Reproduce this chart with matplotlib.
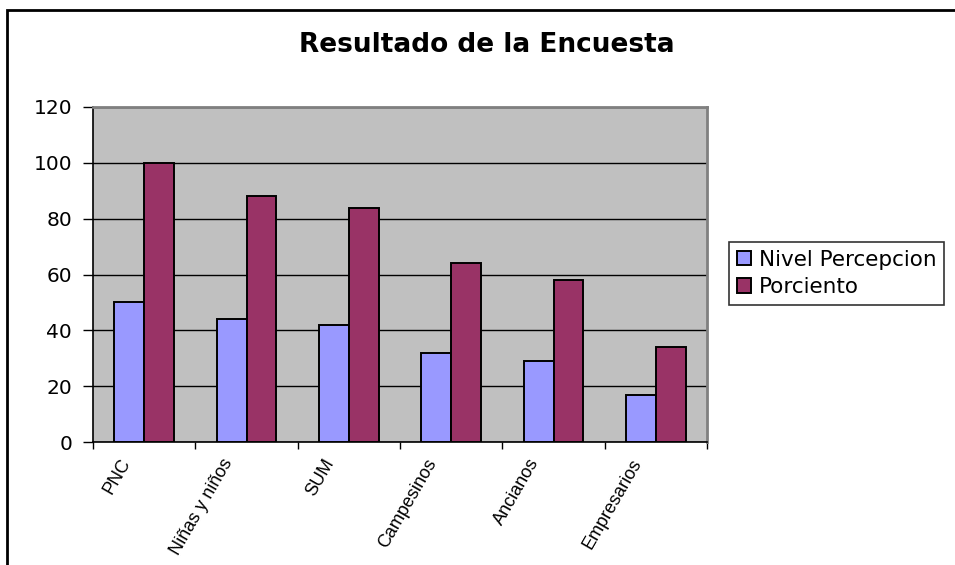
import matplotlib
matplotlib.use("Agg")
import matplotlib.pyplot as plt
from matplotlib.patches import Rectangle
from matplotlib.transforms import ScaledTranslation
import numpy as np

categories = ["PNC", "Niñas y niños", "SUM", "Campesinos", "Ancianos", "Empresarios"]
nivel_percepcion = [50, 44, 42, 32, 29, 17]
porciento = [100, 88, 84, 64, 58, 34]
series_names = ["Nivel Percepcion", "Porciento"]
yticks = [0, 20, 40, 60, 80, 100, 120]

plt.rcParams['font.family'] = ['DejaVu Sans']

W, H = 955, 565
fig = plt.figure(figsize=(W / 100, H / 100), dpi=100)
fig.patch.set_facecolor("white")

# outer chart border
fig.patches.append(Rectangle((7 / W, -0.05), 1.2, 1 - 10 / H + 0.05, transform=fig.transFigure,
                             fill=False, edgecolor="black", linewidth=2))

ax = fig.add_axes([93 / W, 1 - 442 / H, (707 - 93) / W, (442 - 107) / H])
ax.set_facecolor("#C0C0C0")

x = np.arange(len(categories))
w = 0.29
ax.bar(x - w / 2, nivel_percepcion, w, color="#9999FF", edgecolor="black", linewidth=1.4,
       label=series_names[0], zorder=3)
ax.bar(x + w / 2, porciento, w, color="#993366", edgecolor="black", linewidth=1.4,
       label=series_names[1], zorder=3)

ax.set_xlim(-0.5, len(categories) - 0.5)
ax.set_ylim(0, 120)
ax.set_yticks(yticks)
ax.yaxis.grid(True, color="black", linewidth=1.0, zorder=1)
ax.set_axisbelow(True)
ax.tick_params(axis="y", direction="out", length=7, width=1, labelsize=14.5, pad=8, colors="black")

# category boundary ticks (minor), labels at centers (major)
ax.set_xticks(np.arange(-0.5, len(categories)), minor=True)
ax.set_xticks(x)
ax.set_xticklabels(categories, rotation=60, ha="right", va="center", rotation_mode="anchor",
                   fontsize=13, family=["Liberation Sans", "DejaVu Sans"])
ax.tick_params(axis="x", which="major", length=0, pad=13)
ax.tick_params(axis="x", which="minor", direction="out", length=5, width=1)
offset = ScaledTranslation(-13 / 72, 0, fig.dpi_scale_trans)
for lbl in ax.get_xticklabels():
    lbl.set_transform(lbl.get_transform() + offset)

for s in ["left", "bottom"]:
    ax.spines[s].set_color("black")
    ax.spines[s].set_linewidth(1.2)
for s in ["top", "right"]:
    ax.spines[s].set_color("#808080")
    ax.spines[s].set_linewidth(2)

fig.text(487 / W, 1 - 45 / H, "Resultado de la Encuesta", ha="center", va="center",
         fontsize=19, fontweight="bold")

leg = fig.legend(loc="upper left", bbox_to_anchor=(729 / W, 1 - 242 / H), fontsize=15.5,
                 frameon=True, fancybox=False, edgecolor="black", handlelength=0.65,
                 handleheight=0.65, handletextpad=0.4, borderpad=0.35, labelspacing=0.35,
                 borderaxespad=0)
leg.get_frame().set_linewidth(1.2)

fig.savefig("out.png", dpi=100)
